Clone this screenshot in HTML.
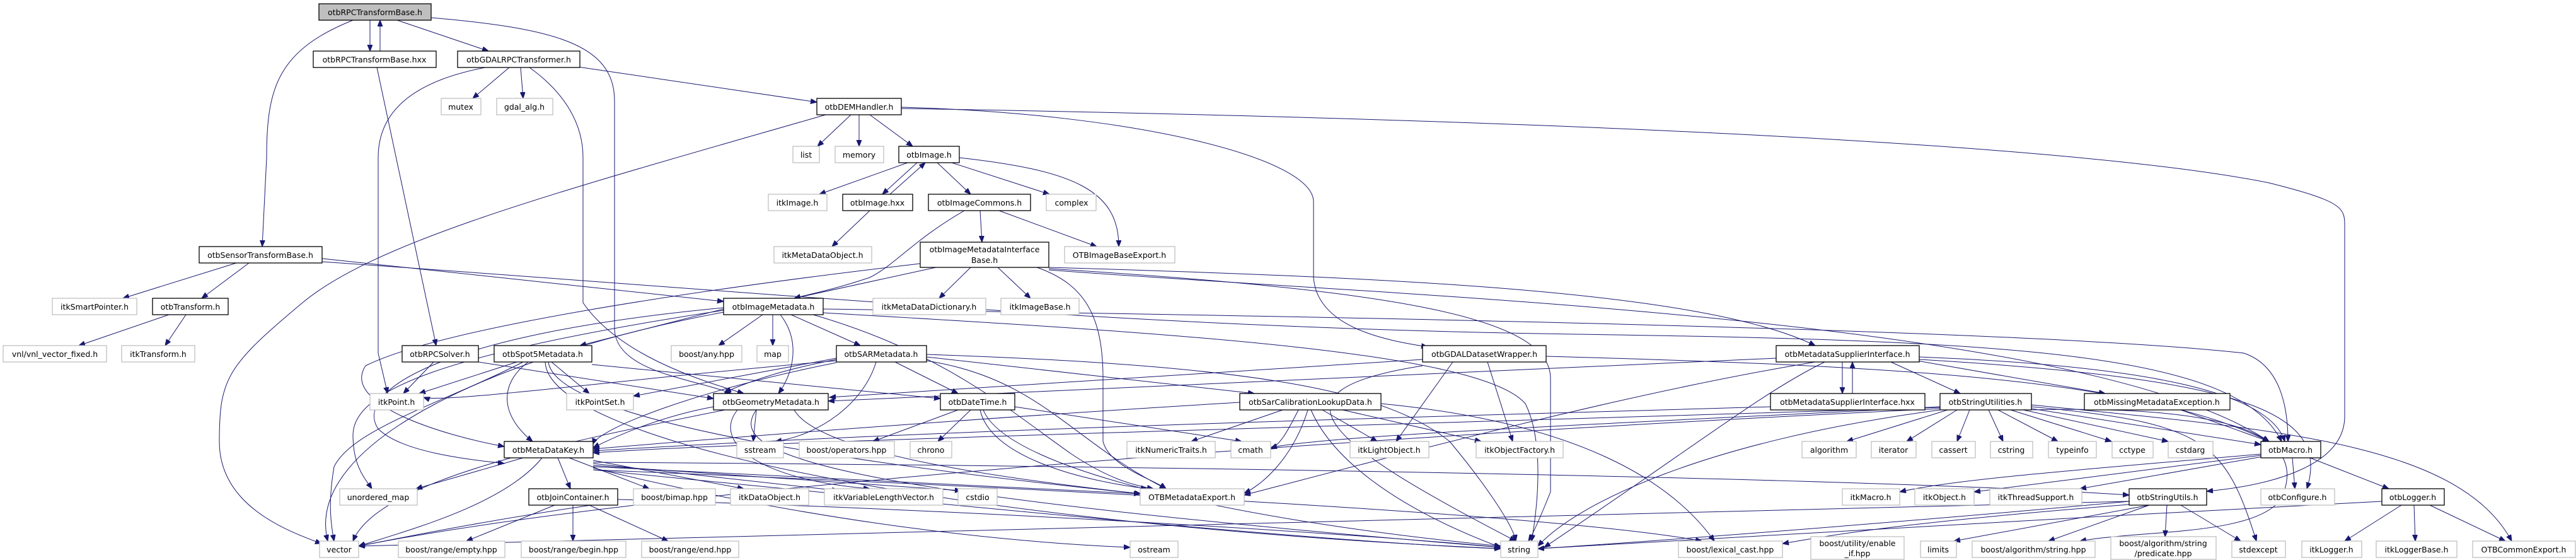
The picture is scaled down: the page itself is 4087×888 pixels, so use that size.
<!DOCTYPE html>
<html><head><meta charset="utf-8"><style>
html,body{margin:0;padding:0;background:#fff;}
svg{display:block;}
text{font-family:"DejaVu Sans","Liberation Sans",sans-serif;font-size:12.5px;fill:#000;text-anchor:middle;}
.b{fill:#fff;stroke:#000;stroke-width:1.3;}
.g{fill:#fff;stroke:#bfbfbf;stroke-width:1.3;}
.r{fill:#bfbfbf;stroke:#000;stroke-width:1.3;}
path{fill:none;stroke:#191970;stroke-width:1;}
</style></head><body>
<svg width="4087" height="888" viewBox="0 0 4087 888" xmlns="http://www.w3.org/2000/svg">
<defs><marker id="a" markerUnits="userSpaceOnUse" markerWidth="12" markerHeight="10" refX="10" refY="4" orient="auto"><path d="M0,0 L10,4 L0,8 Z" style="fill:#191970;stroke:#191970"/></marker></defs>
<g marker-end="url(#a)">
<path d="M587,32 L587,81"/><path d="M603,81 L603,32"/>
<path d="M630,32 L775,81"/>
<path d="M560,32 C440,80 423,140 423,250 L416,391"/>
<path d="M684,28 C880,45 975,70 975,160 L975,520 C975,590 1100,600 1160,624"/>
<path d="M598,107 L692,548"/>
<path d="M808,107 L750,156"/><path d="M826,107 L830,156"/>
<path d="M770,107 C650,130 600,180 600,250 L600,560 L615,624"/>
<path d="M840,107 C900,150 925,200 925,250 L925,480 C980,560 1100,600 1180,624"/>
<path d="M910,105 L1296,162"/>
<path d="M1350,182 L1297,232"/><path d="M1363,182 L1363,232"/><path d="M1380,182 L1448,232"/>
<path d="M1310,182 C900,300 600,380 480,480 C360,580 348,600 348,700 C348,800 450,840 510,862"/>
<path d="M1430,170 C1800,180 2084,250 2084,320 L2084,440 C2090,520 2200,540 2265,550"/>
<path d="M1430,172 C2500,190 3300,230 3600,290 C3720,320 3720,330 3720,360 L3720,660 C3720,740 3600,770 3501,779"/>
<path d="M1440,258 L1300,308"/><path d="M1455,258 L1400,308"/><path d="M1412,308 L1468,258"/>
<path d="M1487,258 L1540,308"/><path d="M1510,258 L1665,308"/>
<path d="M1522,250 C1700,270 1775,300 1775,391"/>
<path d="M1380,334 L1320,391"/>
<path d="M1555,334 L1558,384"/>
<path d="M1530,334 C1450,380 1420,420 1380,440 C1320,460 1290,465 1260,473"/>
<path d="M1585,334 L1740,391"/>
<path d="M1485,424 L1260,473"/><path d="M1540,424 L1490,473"/><path d="M1583,424 L1635,473"/>
<path d="M1645,424 C1720,450 1750,500 1750,600 L1750,700 C1760,740 1830,760 1850,775"/>
<path d="M1664,424 C2200,440 2700,460 2880,548"/>
<path d="M1460,418 C1100,460 700,520 580,580 C540,640 700,690 800,708"/>
<path d="M1664,428 C2200,470 3300,500 3600,700"/>
<path d="M1664,426 C2200,460 2460,500 2460,600 L2460,780 C2440,830 2430,850 2425,858"/>
<path d="M375,417 L195,473"/><path d="M395,417 L320,473"/>
<path d="M511,410 L1148,478"/>
<path d="M511,415 C1300,470 1800,520 2500,530 C3200,540 3550,560 3620,700"/>
<path d="M268,499 L125,548"/><path d="M295,499 L262,548"/>
<path d="M688,574 L640,624"/>
<path d="M759,574 L1132,632"/>
<path d="M820,574 L665,624"/><path d="M875,574 L935,624"/>
<path d="M838,574 C790,610 795,660 845,700"/>
<path d="M830,574 C700,640 560,680 530,740 C520,800 525,830 530,858"/>
<path d="M939,578 L1492,632"/>
<path d="M870,574 C880,650 1200,720 1810,783"/>
<path d="M865,574 C870,700 1500,830 2381,870"/>
<path d="M1210,499 L1140,548"/><path d="M1226,499 L1226,548"/><path d="M1255,499 L1365,548"/>
<path d="M1238,499 C1270,540 1260,590 1235,624"/>
<path d="M1148,490 L920,548"/>
<path d="M1148,488 C700,530 560,620 600,680 C640,720 760,730 800,735"/>
<path d="M1148,492 C700,560 560,620 560,690 C560,740 580,760 590,775"/>
<path d="M1290,499 C1500,560 1600,650 1700,720 C1760,760 1800,770 1830,775"/>
<path d="M1306,496 C1900,530 2350,560 2420,640 C2450,700 2440,800 2430,858"/>
<path d="M1306,490 C2000,500 3200,520 3560,560 C3620,580 3630,650 3630,700"/>
<path d="M1148,495 C800,560 480,700 520,858"/>
<path d="M1420,574 L1520,624"/><path d="M1470,566 L1990,624"/>
<path d="M1390,574 C1370,640 1300,690 1230,700"/>
<path d="M1327,570 C1250,585 1200,600 1150,622"/>
<path d="M1327,568 L1005,628"/>
<path d="M1470,572 C1650,600 1700,700 1850,775"/>
<path d="M1470,562 C2000,580 2200,620 2300,700 C2350,760 2400,830 2405,858"/>
<path d="M1327,575 C1100,620 950,680 940,705"/>
<path d="M1327,572 C1000,600 700,640 672,630"/>
<path d="M1200,650 L1195,700"/>
<path d="M1132,645 C1050,660 980,690 941,710"/>
<path d="M1260,650 C1300,720 1600,760 1810,783"/>
<path d="M1200,650 C1150,720 1300,780 2381,868"/>
<path d="M1170,650 C1130,700 1200,760 1380,775"/>
<path d="M1150,650 C900,700 600,760 560,858"/>
<path d="M1520,650 L1385,700"/><path d="M1540,650 L1488,700"/>
<path d="M1555,650 C1570,720 1700,760 1820,775"/>
<path d="M1560,650 C1600,750 2000,830 2381,866"/>
<path d="M1610,645 L1970,700"/>
<path d="M2098,650 L2185,700"/><path d="M2130,650 L2350,700"/><path d="M2035,650 L1890,700"/>
<path d="M2060,650 C2040,690 2030,705 2016,712"/>
<path d="M2075,650 C2050,730 2000,770 1974,782"/>
<path d="M2080,650 C2110,720 2200,800 2381,868"/>
<path d="M2191,640 C2500,670 2650,760 2720,858"/>
<path d="M1967,638 C1600,660 1200,690 941,712"/>
<path d="M2305,574 L2215,700"/><path d="M2360,574 L2400,700"/>
<path d="M2257,580 C2000,620 2100,700 2405,858"/>
<path d="M2257,570 C1800,600 1500,620 1316,630"/>
<path d="M2453,565 C3000,580 3400,600 3600,700"/>
<path d="M2923,574 L2923,624"/><path d="M2939,624 L2939,574"/>
<path d="M3000,574 L3110,624"/><path d="M3030,570 L3340,624"/>
<path d="M3045,566 C3400,580 3600,620 3625,700"/>
<path d="M3045,570 C3550,600 3700,650 3660,775"/>
<path d="M2895,574 C2800,620 2700,700 2450,868"/>
<path d="M2880,574 C2600,620 2300,700 1974,785"/>
<path d="M2818,568 L1314,636"/>
<path d="M2809,645 C2300,660 1500,680 941,715"/>
<path d="M3090,650 L2930,700"/><path d="M3105,650 L3025,700"/><path d="M3125,650 L3105,700"/>
<path d="M3155,650 L3178,700"/><path d="M3170,650 L3265,700"/><path d="M3190,650 L3350,700"/>
<path d="M3210,650 L3440,700"/><path d="M3223,648 L3587,705"/>
<path d="M3223,645 C3500,670 3530,700 3580,858"/>
<path d="M3223,642 C3600,680 3900,700 3985,858"/>
<path d="M3078,645 C2600,670 2100,690 2016,710"/>
<path d="M3078,650 C2700,700 2500,800 2440,866"/>
<path d="M3223,650 C3620,640 3650,720 3620,790 C3580,850 3400,840 3300,858"/>
<path d="M3078,648 C2000,700 1000,780 569,866"/>
<path d="M3078,646 C2000,680 1200,700 941,718"/>
<path d="M3460,650 L3600,700"/>
<path d="M3587,720 C3300,745 3100,760 3014,780"/>
<path d="M3587,722 L3132,780"/><path d="M3590,724 L3300,775"/>
<path d="M3637,726 L3641,775"/><path d="M3665,726 L3790,775"/>
<path d="M3378,795 C3000,830 2600,860 2440,870"/>
<path d="M3410,801 L3100,858"/><path d="M3410,801 L3250,858"/>
<path d="M3438,801 L3435,851"/><path d="M3460,801 L3555,858"/>
<path d="M3378,800 C3000,830 2900,850 2828,862"/>
<path d="M3378,795 C2500,820 1000,850 569,866"/>
<path d="M3810,801 L3720,858"/><path d="M3830,801 L3832,858"/><path d="M3855,801 L3975,858"/>
<path d="M3779,795 C3300,820 2600,860 2440,870"/>
<path d="M830,726 L660,775"/><path d="M885,726 L905,775"/><path d="M903,726 L1030,775"/>
<path d="M941,730 L1180,775"/><path d="M941,735 L1330,778"/><path d="M941,738 L1525,778"/>
<path d="M941,740 L1809,783"/>
<path d="M941,745 C1500,800 2100,860 2381,870"/>
<path d="M860,726 C800,800 650,840 569,866"/>
<path d="M941,733 C2000,740 3000,760 3378,785"/>
<path d="M941,742 C1300,830 1600,860 1793,868"/>
<path d="M941,745 C1800,780 2500,820 2700,858"/>
<path d="M880,801 L740,858"/><path d="M909,801 L909,858"/><path d="M935,801 L1060,858"/>
<path d="M980,795 C800,820 650,850 569,866"/>
<path d="M980,792 C1600,810 2200,850 2381,868"/>
</g>
<!-- nodes -->
<rect class="r" x="506" y="6" width="178" height="26"/><text x="595" y="24">otbRPCTransformBase.h</text>
<rect class="b" x="497" y="81" width="195" height="26"/><text x="594" y="99">otbRPCTransformBase.hxx</text>
<rect class="b" x="726" y="81" width="194" height="26"/><text x="823" y="99">otbGDALRPCTransformer.h</text>
<rect class="g" x="700" y="156" width="63" height="26"/><text x="731" y="174">mutex</text>
<rect class="g" x="788" y="156" width="89" height="26"/><text x="832" y="174">gdal_alg.h</text>
<rect class="b" x="1296" y="156" width="134" height="26"/><text x="1363" y="174">otbDEMHandler.h</text>
<rect class="g" x="1258" y="232" width="42" height="26"/><text x="1279" y="250">list</text>
<rect class="g" x="1325" y="232" width="77" height="26"/><text x="1363" y="250">memory</text>
<rect class="b" x="1426" y="232" width="96" height="26"/><text x="1474" y="250">otbImage.h</text>
<rect class="g" x="1219" y="308" width="93" height="26"/><text x="1265" y="326">itkImage.h</text>
<rect class="b" x="1337" y="308" width="111" height="26"/><text x="1392" y="326">otbImage.hxx</text>
<rect class="b" x="1473" y="308" width="162" height="26"/><text x="1554" y="326">otbImageCommons.h</text>
<rect class="g" x="1660" y="308" width="79" height="26"/><text x="1700" y="326">complex</text>
<rect class="b" x="316" y="391" width="195" height="26"/><text x="413" y="409">otbSensorTransformBase.h</text>
<rect class="g" x="1228" y="391" width="155" height="26"/><text x="1305" y="409">itkMetaDataObject.h</text>
<rect class="b" x="1460" y="384" width="204" height="40"/><text x="1562" y="400">otbImageMetadataInterface</text><text x="1562" y="417">Base.h</text>
<rect class="g" x="1689" y="391" width="175" height="26"/><text x="1776" y="409">OTBImageBaseExport.h</text>
<rect class="g" x="83" y="473" width="134" height="26"/><text x="150" y="491">itkSmartPointer.h</text>
<rect class="b" x="242" y="473" width="120" height="26"/><text x="302" y="491">otbTransform.h</text>
<rect class="b" x="1148" y="473" width="158" height="26"/><text x="1227" y="491">otbImageMetadata.h</text>
<rect class="g" x="1385" y="473" width="179" height="26"/><text x="1474" y="491">itkMetaDataDictionary.h</text>
<rect class="g" x="1588" y="473" width="124" height="26"/><text x="1650" y="491">itkImageBase.h</text>
<rect class="g" x="5" y="548" width="164" height="26"/><text x="87" y="566">vnl/vnl_vector_fixed.h</text>
<rect class="g" x="193" y="548" width="116" height="26"/><text x="251" y="566">itkTransform.h</text>
<rect class="b" x="638" y="548" width="121" height="26"/><text x="698" y="566">otbRPCSolver.h</text>
<rect class="b" x="784" y="548" width="155" height="26"/><text x="861" y="566">otbSpot5Metadata.h</text>
<rect class="g" x="1065" y="548" width="112" height="26"/><text x="1121" y="566">boost/any.hpp</text>
<rect class="g" x="1201" y="548" width="50" height="26"/><text x="1226" y="566">map</text>
<rect class="b" x="1327" y="548" width="143" height="26"/><text x="1398" y="566">otbSARMetadata.h</text>
<rect class="b" x="2257" y="548" width="196" height="26"/><text x="2355" y="566">otbGDALDatasetWrapper.h</text>
<rect class="b" x="2818" y="548" width="227" height="26"/><text x="2931" y="566">otbMetadataSupplierInterface.h</text>
<rect class="g" x="587" y="624" width="85" height="26"/><text x="629" y="642">itkPoint.h</text>
<rect class="g" x="899" y="624" width="106" height="26"/><text x="952" y="642">itkPointSet.h</text>
<rect class="b" x="1132" y="624" width="182" height="26"/><text x="1223" y="642">otbGeometryMetadata.h</text>
<rect class="b" x="1492" y="624" width="118" height="26"/><text x="1551" y="642">otbDateTime.h</text>
<rect class="b" x="1967" y="624" width="224" height="26"/><text x="2079" y="642">otbSarCalibrationLookupData.h</text>
<rect class="b" x="2809" y="624" width="245" height="26"/><text x="2931" y="642">otbMetadataSupplierInterface.hxx</text>
<rect class="b" x="3078" y="624" width="145" height="26"/><text x="3150" y="642">otbStringUtilities.h</text>
<rect class="b" x="3307" y="624" width="231" height="26"/><text x="3422" y="642">otbMissingMetadataException.h</text>
<rect class="b" x="800" y="700" width="141" height="26"/><text x="870" y="718">otbMetaDataKey.h</text>
<rect class="g" x="1169" y="700" width="74" height="26"/><text x="1206" y="718">sstream</text>
<rect class="g" x="1268" y="700" width="151" height="26"/><text x="1343" y="718">boost/operators.hpp</text>
<rect class="g" x="1444" y="700" width="66" height="26"/><text x="1477" y="718">chrono</text>
<rect class="g" x="1788" y="700" width="140" height="26"/><text x="1858" y="718">itkNumericTraits.h</text>
<rect class="g" x="1953" y="700" width="63" height="26"/><text x="1984" y="718">cmath</text>
<rect class="g" x="2142" y="700" width="125" height="26"/><text x="2204" y="718">itkLightObject.h</text>
<rect class="g" x="2342" y="700" width="138" height="26"/><text x="2411" y="718">itkObjectFactory.h</text>
<rect class="g" x="2859" y="700" width="86" height="26"/><text x="2902" y="718">algorithm</text>
<rect class="g" x="2969" y="700" width="71" height="26"/><text x="3004" y="718">iterator</text>
<rect class="g" x="3065" y="700" width="69" height="26"/><text x="3099" y="718">cassert</text>
<rect class="g" x="3158" y="700" width="67" height="26"/><text x="3191" y="718">cstring</text>
<rect class="g" x="3250" y="700" width="76" height="26"/><text x="3288" y="718">typeinfo</text>
<rect class="g" x="3351" y="700" width="65" height="26"/><text x="3383" y="718">cctype</text>
<rect class="g" x="3440" y="700" width="71" height="26"/><text x="3475" y="718">cstdarg</text>
<rect class="b" x="3587" y="700" width="95" height="26"/><text x="3634" y="718">otbMacro.h</text>
<rect class="g" x="539" y="775" width="123" height="26"/><text x="600" y="793">unordered_map</text>
<rect class="b" x="839" y="775" width="141" height="26"/><text x="909" y="793">otbJoinContainer.h</text>
<rect class="g" x="1005" y="775" width="130" height="26"/><text x="1070" y="793">boost/bimap.hpp</text>
<rect class="g" x="1159" y="775" width="124" height="26"/><text x="1221" y="793">itkDataObject.h</text>
<rect class="g" x="1308" y="775" width="188" height="26"/><text x="1402" y="793">itkVariableLengthVector.h</text>
<rect class="g" x="1520" y="775" width="62" height="26"/><text x="1551" y="793">cstdio</text>
<rect class="g" x="1809" y="775" width="165" height="26"/><text x="1891" y="793">OTBMetadataExport.h</text>
<rect class="g" x="2923" y="775" width="91" height="26"/><text x="2968" y="793">itkMacro.h</text>
<rect class="g" x="3038" y="775" width="94" height="26"/><text x="3085" y="793">itkObject.h</text>
<rect class="g" x="3157" y="775" width="146" height="26"/><text x="3230" y="793">itkThreadSupport.h</text>
<rect class="b" x="3378" y="775" width="123" height="26"/><text x="3439" y="793">otbStringUtils.h</text>
<rect class="g" x="3587" y="775" width="117" height="26"/><text x="3645" y="793">otbConfigure.h</text>
<rect class="b" x="3779" y="775" width="99" height="26"/><text x="3828" y="793">otbLogger.h</text>
<rect class="g" x="507" y="858" width="62" height="26"/><text x="538" y="876">vector</text>
<rect class="g" x="632" y="858" width="169" height="26"/><text x="716" y="876">boost/range/empty.hpp</text>
<rect class="g" x="827" y="858" width="166" height="26"/><text x="910" y="876">boost/range/begin.hpp</text>
<rect class="g" x="1018" y="858" width="154" height="26"/><text x="1095" y="876">boost/range/end.hpp</text>
<rect class="g" x="1793" y="858" width="76" height="26"/><text x="1831" y="876">ostream</text>
<rect class="g" x="2381" y="858" width="59" height="26"/><text x="2410" y="876">string</text>
<rect class="g" x="2663" y="858" width="165" height="26"/><text x="2745" y="876">boost/lexical_cast.hpp</text>
<rect class="g" x="2873" y="851" width="148" height="36"/><text x="2947" y="866">boost/utility/enable</text><text x="2947" y="882">_if.hpp</text>
<rect class="g" x="3047" y="858" width="57" height="26"/><text x="3075" y="876">limits</text>
<rect class="g" x="3129" y="858" width="195" height="26"/><text x="3226" y="876">boost/algorithm/string.hpp</text>
<rect class="g" x="3349" y="851" width="167" height="36"/><text x="3432" y="866">boost/algorithm/string</text><text x="3432" y="882">/predicate.hpp</text>
<rect class="g" x="3541" y="858" width="85" height="26"/><text x="3583" y="876">stdexcept</text>
<rect class="g" x="3652" y="858" width="95" height="26"/><text x="3699" y="876">itkLogger.h</text>
<rect class="g" x="3770" y="858" width="128" height="26"/><text x="3834" y="876">itkLoggerBase.h</text>
<rect class="g" x="3923" y="858" width="163" height="26"/><text x="4004" y="876">OTBCommonExport.h</text>
</svg>
</body></html>
